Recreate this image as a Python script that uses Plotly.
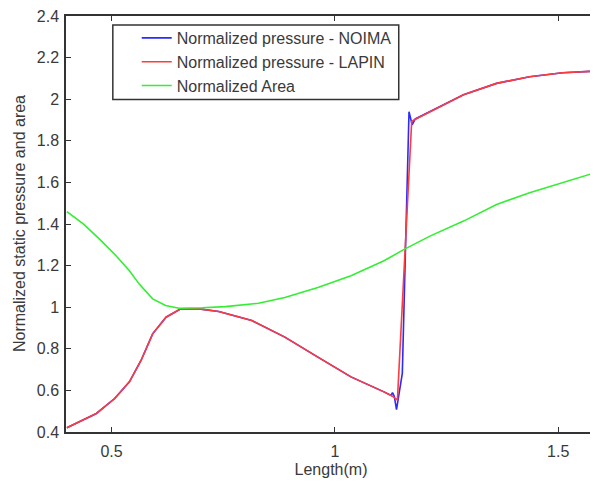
import plotly.graph_objects as go

# ---- data ----
x_area = [0.40, 0.438, 0.473, 0.509, 0.54, 0.562, 0.592, 0.621, 0.651, 0.703, 0.755,
          0.829, 0.888, 0.962, 1.036, 1.11, 1.155, 1.214, 1.288, 1.362, 1.436, 1.51, 1.58]
y_area = [1.459, 1.398, 1.327, 1.25, 1.175, 1.111, 1.04, 1.008, 0.995, 0.997, 1.003,
          1.019, 1.047, 1.095, 1.151, 1.223, 1.278, 1.343, 1.414, 1.494, 1.55, 1.598, 1.645]

x_lapin = [0.40, 0.466, 0.507, 0.54, 0.566, 0.592, 0.622, 0.655, 0.696, 0.74, 0.814,
           0.888, 0.962, 1.036, 1.11, 1.129, 1.14, 1.172, 1.177, 1.214, 1.288, 1.362,
           1.436, 1.51, 1.58]
y_lapin = [0.42, 0.489, 0.561, 0.641, 0.744, 0.872, 0.952, 0.992, 0.992, 0.979, 0.936,
           0.856, 0.76, 0.665, 0.593, 0.572, 0.553, 1.893, 1.90, 1.941, 2.021, 2.076,
           2.108, 2.127, 2.135]

x_noima = [0.40, 0.466, 0.507, 0.54, 0.566, 0.592, 0.622, 0.655, 0.696, 0.74, 0.814,
           0.888, 0.962, 1.036, 1.11, 1.126, 1.129, 1.133, 1.138, 1.144, 1.151, 1.166,
           1.173, 1.18, 1.214, 1.288, 1.362, 1.436, 1.51, 1.58]
y_noima = [0.42, 0.489, 0.561, 0.641, 0.744, 0.872, 0.952, 0.992, 0.992, 0.979, 0.936,
           0.856, 0.76, 0.665, 0.593, 0.576, 0.59, 0.572, 0.508, 0.58, 0.682, 1.94,
           1.877, 1.905, 1.941, 2.021, 2.076, 2.108, 2.127, 2.135]

x_tickvals = [0.5, 1.0, 1.5]
x_ticktext = ["0.5", "1", "1.5"]
y_tickvals = [0.4, 0.6, 0.8, 1.0, 1.2, 1.4, 1.6, 1.8, 2.0, 2.2, 2.4]
y_ticktext = ["0.4", "0.6", "0.8", "1", "1.2", "1.4", "1.6", "1.8", "2", "2.2", "2.4"]

FONT = "Liberation Sans, Arial, sans-serif"
TXT = "#3a3a3a"
AX = "#333333"
FS = 16

# page body has an 8px default margin; the figure is sized/placed to compensate
W, H = 590, 474
ML, MT, MB, MR = 58, 6, 50, 0
PW, PH = W - ML - MR, H - MT - MB

fig = go.Figure()
fig.add_trace(go.Scatter(x=x_noima, y=y_noima, mode="lines",
                         name="Normalized pressure - NOIMA",
                         line=dict(color="#2b2bff", width=1.6)))
fig.add_trace(go.Scatter(x=x_lapin, y=y_lapin, mode="lines",
                         name="Normalized pressure - LAPIN",
                         line=dict(color="#ff3b3b", width=1.6)))
fig.add_trace(go.Scatter(x=x_area, y=y_area, mode="lines",
                         name="Normalized Area",
                         line=dict(color="#33ee33", width=1.6)))

# legend box (window px: 113..400 x 23..98)
bx0, bx1, by0, by1 = 113 - 8 - ML, 400 - 8 - ML, 23 - 8 - MT, 98 - 8 - MT

fig.update_layout(
    width=W, height=H,
    margin=dict(l=ML, r=MR, t=MT, b=MB),
    paper_bgcolor="white", plot_bgcolor="white",
    font=dict(family=FONT, size=FS, color=TXT),
    showlegend=True,
    legend=dict(x=(177 - 8 - ML - 40) / PW, y=1 - (by0 - 4) / PH,
                xanchor="left", yanchor="top",
                bgcolor="rgba(0,0,0,0)", borderwidth=0,
                font=dict(family=FONT, size=FS, color=TXT),
                tracegroupgap=0),
    shapes=[dict(type="rect", xref="paper", yref="paper",
                 x0=bx0 / PW, x1=bx1 / PW,
                 y0=1 - by1 / PH, y1=1 - by0 / PH,
                 line=dict(color=AX, width=1.5), fillcolor="rgba(0,0,0,0)")],
    annotations=[dict(text="Normalized static pressure and area", textangle=-90,
                      xref="paper", yref="paper", x=0, y=0.5,
                      xanchor="center", yanchor="middle",
                      xshift=-(ML - (19 - 8)), showarrow=False,
                      font=dict(family=FONT, size=FS, color=TXT))],
)
fig.update_xaxes(range=[0.398, 0.398 + (PW + 2) / 450.0], tickvals=x_tickvals, ticktext=x_ticktext,
                 ticks="inside", ticklen=5, tickcolor=AX, showgrid=False, zeroline=False,
                 showline=True, linecolor=AX, linewidth=1.5, mirror="ticks",
                 ticklabelstandoff=4, ticklabeloverflow="allow",
                 title=dict(text="Length(m)", standoff=5, font=dict(size=FS, color=TXT)),
                 tickfont=dict(size=FS, color=TXT))
fig.update_yaxes(range=[0.4, 2.4], tickvals=y_tickvals, ticktext=y_ticktext,
                 ticks="inside", ticklen=5, tickcolor=AX, showgrid=False, zeroline=False,
                 showline=True, linecolor=AX, linewidth=1.5, mirror="ticks",
                 ticklabelstandoff=2, ticklabeloverflow="allow",
                 tickfont=dict(size=FS, color=TXT))

fig.write_html("out.html")
